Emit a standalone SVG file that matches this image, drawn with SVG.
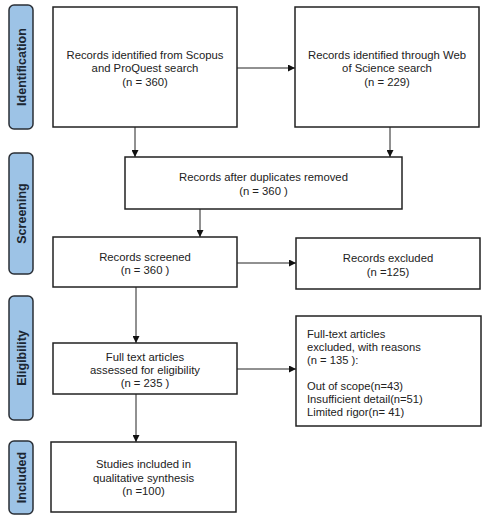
<svg xmlns="http://www.w3.org/2000/svg" width="491" height="520" viewBox="0 0 491 520">
<style>
.bg{fill:#ffffff}
.box{fill:#ffffff;stroke:#222222;stroke-width:1.5}
.side{fill:#9dc3e6;stroke:#2a2f36;stroke-width:1.5}
.t{font-family:"Liberation Sans",Arial,sans-serif;font-size:11.3px;fill:#222222;text-anchor:middle}
.tl{font-family:"Liberation Sans",Arial,sans-serif;font-size:11.2px;fill:#222222}
.st{font-family:"Liberation Sans",Arial,sans-serif;font-size:12.5px;font-weight:bold;fill:#1c2733;text-anchor:middle}
.c{stroke:#222222;stroke-width:1;fill:none;marker-end:url(#ah)}
</style>
<defs>
<marker id="ah" viewBox="0 0 10 10" refX="10" refY="5" markerWidth="7" markerHeight="7" markerUnits="userSpaceOnUse" orient="auto">
<path d="M0,0 L10,5 L0,10 z" fill="#111111"/>
</marker>
</defs>
<rect class="bg" x="0" y="0" width="491" height="520"/>
<g id="phase-identification">
<rect class="side" x="9" y="5" width="24" height="124" rx="5"/>
<text class="st" transform="translate(25.5,67) rotate(-90)">Identification</text>
</g>
<g id="phase-screening">
<rect class="side" x="9" y="153" width="24" height="121" rx="5"/>
<text class="st" transform="translate(25.5,213.5) rotate(-90)">Screening</text>
</g>
<g id="phase-eligibility">
<rect class="side" x="9" y="296" width="24" height="124" rx="5"/>
<text class="st" transform="translate(25.5,358) rotate(-90)">Eligibility</text>
</g>
<g id="phase-included">
<rect class="side" x="9" y="441" width="24" height="73" rx="5"/>
<text class="st" transform="translate(25.5,477.5) rotate(-90)">Included</text>
</g>
<g id="connectors">
<line class="c" x1="237" y1="68" x2="295" y2="68"/>
<line class="c" x1="135" y1="127" x2="135" y2="157"/>
<line class="c" x1="390" y1="127" x2="390" y2="157"/>
<line class="c" x1="200" y1="209" x2="200" y2="237"/>
<line class="c" x1="237" y1="263" x2="296" y2="263"/>
<line class="c" x1="136" y1="287" x2="136" y2="343"/>
<line class="c" x1="237" y1="369" x2="296" y2="369"/>
<line class="c" x1="136" y1="394" x2="136" y2="442"/>
</g>
<g id="n1">
<rect class="box" x="53" y="7" width="184" height="120"/>
<text class="t" x="145" y="59">Records identified from Scopus</text>
<text class="t" x="145" y="72">and ProQuest search</text>
<text class="t" x="145" y="86">(n = 360)</text>
</g>
<g id="n2">
<rect class="box" x="295" y="7" width="184" height="120"/>
<text class="t" x="387" y="59">Records identified through Web</text>
<text class="t" x="387" y="72">of Science search</text>
<text class="t" x="387" y="86">(n = 229)</text>
</g>
<g id="n3">
<rect class="box" x="125" y="157" width="277" height="52"/>
<text class="t" x="263.5" y="181">Records after duplicates removed</text>
<text class="t" x="263.5" y="195">(n = 360 )</text>
</g>
<g id="n4">
<rect class="box" x="53" y="237" width="184" height="50"/>
<text class="t" x="145" y="261">Records screened</text>
<text class="t" x="145" y="274">(n = 360 )</text>
</g>
<g id="n5">
<rect class="box" x="296" y="238" width="184" height="51"/>
<text class="t" x="388" y="262">Records excluded</text>
<text class="t" x="388" y="276">(n =125)</text>
</g>
<g id="n6">
<rect class="box" x="53" y="343" width="184" height="51"/>
<text class="t" x="145" y="361">Full text articles</text>
<text class="t" x="145" y="374">assessed for eligibility</text>
<text class="t" x="145" y="387">(n = 235 )</text>
</g>
<g id="n7">
<rect class="box" x="296" y="316" width="185" height="110"/>
<text class="tl" x="307" y="338">Full-text articles</text>
<text class="tl" x="307" y="351">excluded, with reasons</text>
<text class="tl" x="307" y="364">(n = 135 ):</text>
<text class="tl" x="307" y="390">Out of scope(n=43)</text>
<text class="tl" x="307" y="403">Insufficient detail(n=51)</text>
<text class="tl" x="307" y="416">Limited rigor(n= 41)</text>
</g>
<g id="n8">
<rect class="box" x="51" y="442" width="185" height="70"/>
<text class="t" x="143.5" y="468">Studies included in</text>
<text class="t" x="143.5" y="482">qualitative synthesis</text>
<text class="t" x="143.5" y="495">(n =100)</text>
</g>
</svg>
